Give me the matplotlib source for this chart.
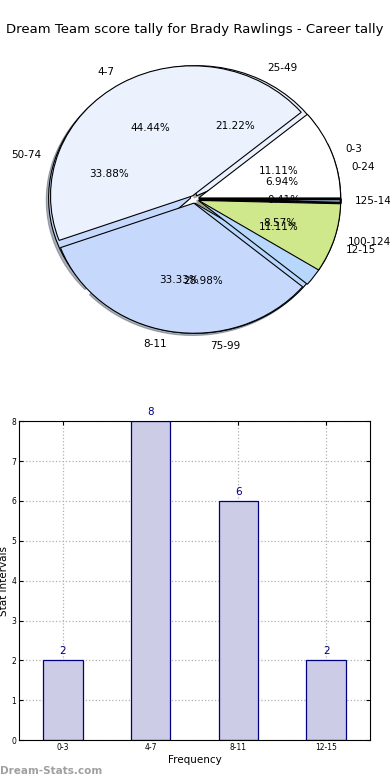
import matplotlib
matplotlib.use('Agg')
import matplotlib.pyplot as plt

# datos de la tarta y de las barras
intervalos = ['0-3', '4-7', '8-11', '12-15']
frecuencias = [2, 8, 6, 2]
rangos = ['0-24', '25-49', '50-74', '75-99', '100-124', '125-149']
conteos = [34, 104, 166, 142, 42, 2]

colores = ['white', '#ebf2fe', '#c6d9fd', '#b7d7fd', '#cfe88b', '#b7d7fd']

fig = plt.figure(figsize=(3.9, 7.8), dpi=100)
fig.text(0.5, 1 - 30 / 780, 'Dream Team score tally for Brady Rawlings - Career tally',
         ha='center', va='center', fontsize=9.5)

ax = fig.add_axes([0.044, 0.536, 0.91, 0.417])
# tarta de rangos debajo, tarta de intervalos encima
w2, t2, p2 = ax.pie(conteos, labels=rangos, colors=colores, explode=[0.03] * 6,
                    autopct='%1.2f%%', shadow={'ox': -0.012, 'oy': -0.012, 'shade': 0.55},
                    startangle=0,
                    wedgeprops={'edgecolor': 'black', 'linewidth': 0.8},
                    textprops={'fontsize': 7.5})
w1, t1, p1 = ax.pie(frecuencias, labels=intervalos, colors=colores[:4], explode=[0.03] * 4,
                    autopct='%1.2f%%', startangle=0,
                    wedgeprops={'edgecolor': 'black', 'linewidth': 0.8},
                    textprops={'fontsize': 7.5})
for w in w2[4:]:
    w.set_zorder(3)   # las porciones pequeñas quedan por encima
w2[-1].set_linewidth(1.5)
ax.set_aspect('auto')
ax.set_xlim(-1.25, 1.25); ax.set_ylim(-1.25, 1.25)

# barras
bx = fig.add_axes([0.049, 0.051, 0.9, 0.409])
xs = range(len(intervalos))
bx.bar(xs, frecuencias, width=0.45, color='#ccccE6', edgecolor='navy', linewidth=0.9, zorder=2)
for x, v in zip(xs, frecuencias):
    bx.text(x, v + 0.1, str(v), ha='center', va='bottom', color='navy', fontsize=7.5)
bx.set_xlim(-0.5, 3.5); bx.set_ylim(0, 8)
bx.set_xticks(list(xs)); bx.set_xticklabels(intervalos)
bx.set_yticks(range(9))
bx.tick_params(labelsize=5.5, direction='in', top=True, right=True, length=3, pad=2)
bx.grid(True, linestyle=':', color='#b0b0b0', linewidth=0.9, zorder=0)
bx.set_axisbelow(True)
bx.set_xlabel('Frequency', fontsize=7.5, labelpad=2)
bx.set_ylabel('Stat Intervals', fontsize=7.5, labelpad=2)

fig.text(0.0, 1 - 771 / 780, 'Dream-Stats.com', ha='left', va='center', fontsize=7.5,
         color='#a0a0a0', fontweight='bold')

fig.savefig('out.png', dpi=100)
